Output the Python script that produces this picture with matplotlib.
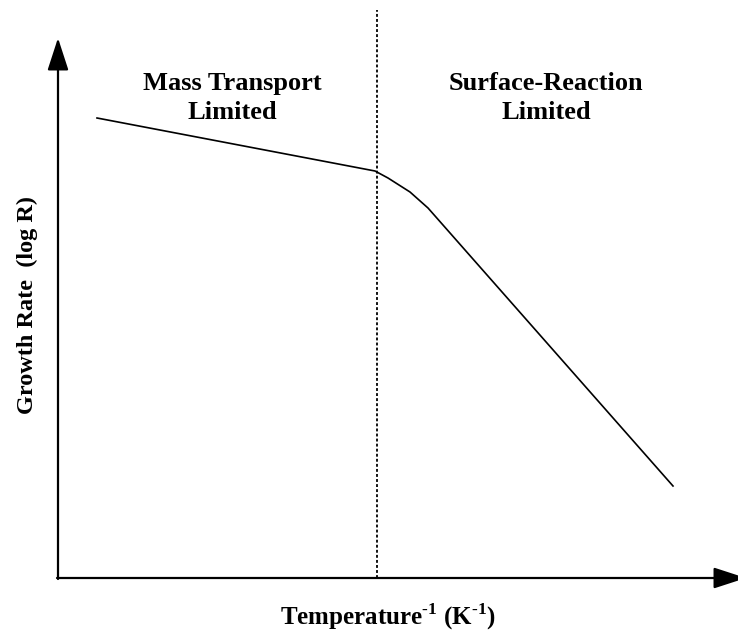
import matplotlib.pyplot as plt

plt.rcParams['font.family'] = ['Liberation Serif', 'DejaVu Serif']
plt.rcParams['font.weight'] = 'bold'
plt.rcParams['mathtext.fontset'] = 'custom'
plt.rcParams['mathtext.rm'] = 'Liberation Serif:bold'
plt.rcParams['mathtext.bf'] = 'Liberation Serif:bold'

# growth-rate curve (log R against 1/T, arbitrary units from the origin)
inv_temp = [39, 317, 330, 352, 370, 615]
log_rate = [460, 407, 400, 386, 370, 92]

# boundary between the two regimes
boundary_x = 319
boundary_top = 568

regions = ["Mass Transport\nLimited", "Surface-Reaction\nLimited"]
region_x = [174, 488]
region_y = 480

xlabel = "Temperature$^{\\text{-}1}$ (K$^{\\text{-}1}$)"
ylabel = "Growth Rate  (log R)"

fig = plt.figure(figsize=(7.38, 6.33), dpi=100)
ax = fig.add_axes([0, 0, 1, 1])
ax.set_xlim(-58, 680)
ax.set_ylim(-55, 578)
ax.axis('off')

# axes drawn as arrows
arrow = dict(arrowstyle='-|>,head_length=20,head_width=6.5', mutation_scale=1,
             lw=1.6, color='black', shrinkA=0, shrinkB=0)
ax.annotate('', xy=(0, 540), xytext=(0, -1), arrowprops=arrow, annotation_clip=False)
ax.annotate('', xy=(688, 0), xytext=(-1, 0), arrowprops=arrow, annotation_clip=False)

ax.plot(inv_temp, log_rate, color='black', lw=1.2, solid_joinstyle='round')
ax.plot([boundary_x, boundary_x], [0, boundary_top], color='black', lw=1.3,
        linestyle=(0, (1.6, 1.2)))

for label, x in zip(regions, region_x):
    ax.text(x, region_y, label, ha='center', va='center', fontsize=19,
            fontweight='bold', linespacing=1.3, multialignment='center')

ax.text(330, -39, xlabel, ha='center', va='center', fontsize=18, fontweight='bold')
ax.text(-31, 273, ylabel, ha='center', va='center', rotation=90, fontsize=17.5,
        fontweight='bold')

fig.savefig('out.png', dpi=100)
